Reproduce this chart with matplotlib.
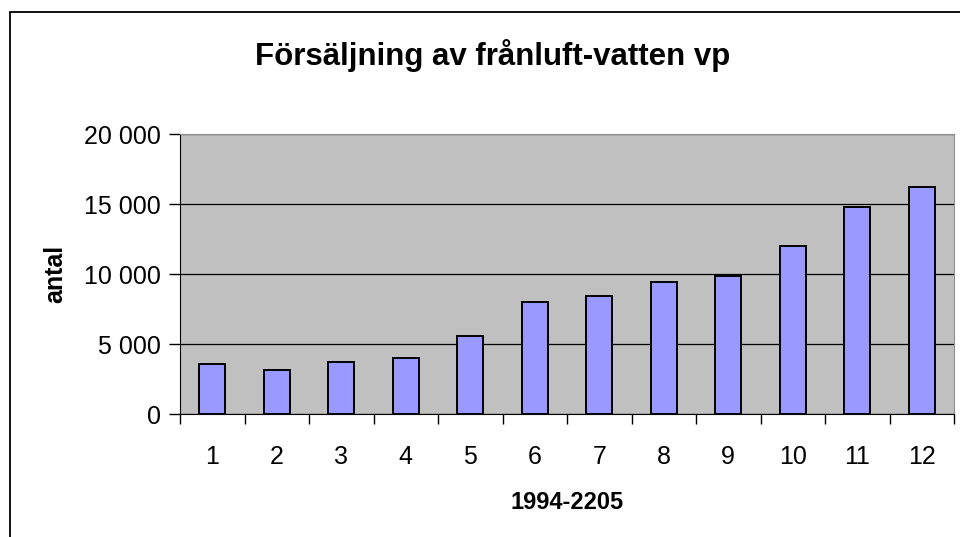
import matplotlib
matplotlib.use("Agg")
import matplotlib.pyplot as plt
from matplotlib.patches import Rectangle
from matplotlib.ticker import FuncFormatter, FixedLocator

plt.rcParams['font.family'] = ['Liberation Sans', 'DejaVu Sans']

# data
years = [1, 2, 3, 4, 5, 6, 7, 8, 9, 10, 11, 12]
antal = [3550, 3140, 3690, 3980, 5550, 7980, 8400, 9400, 9830, 11980, 14810, 16240]
yticks = [0, 5000, 10000, 15000, 20000]

fig = plt.figure(figsize=(9.6, 5.37), dpi=100)

# outer chart frame (cut off at right and bottom)
fig.patches.append(Rectangle((10 / 960, -0.05), 1.0, (537 - 12) / 537 + 0.05,
                             transform=fig.transFigure, fill=False,
                             edgecolor='black', lw=1.3))

ax = fig.add_axes([180 / 960, (537 - 414) / 537, 774 / 960, 280 / 537])
ax.set_facecolor('#C0C0C0')
ax.bar(years, antal, width=0.4, color='#9999FF', edgecolor='black', lw=1.4, zorder=3)

ax.set_xlim(0.5, 12.5)
ax.set_ylim(0, 20000)
ax.yaxis.set_major_locator(FixedLocator(yticks))
ax.yaxis.set_major_formatter(FuncFormatter(lambda v, p: f"{int(v):,}".replace(",", " ")))
ax.grid(axis='y', color='black', lw=0.9, zorder=1)

ax.set_xticks([x + 0.5 for x in range(0, 13)])
ax.set_xticklabels([])
ax.set_xticks(years, minor=True)
ax.set_xticklabels([str(y) for y in years], minor=True)
ax.tick_params(axis='x', which='major', length=7, width=1, direction='out')
ax.tick_params(axis='x', which='minor', length=0, pad=22, labelsize=18)
ax.tick_params(axis='y', length=8, width=1, labelsize=18, pad=6)

for s in ['top', 'right']:
    ax.spines[s].set_color('#909090')
for s in ['left', 'bottom']:
    ax.spines[s].set_color('black')

ax.set_ylabel('antal', fontsize=18, fontweight='bold', labelpad=12)
ax.set_xlabel('1994-2205', fontsize=17, fontweight='bold', labelpad=16)

fig.text(493 / 960, 1 - 55 / 537, 'Försäljning av frånluft-vatten vp',
         ha='center', va='center', fontsize=22.5, fontweight='bold')

fig.savefig('out.png', dpi=100)
